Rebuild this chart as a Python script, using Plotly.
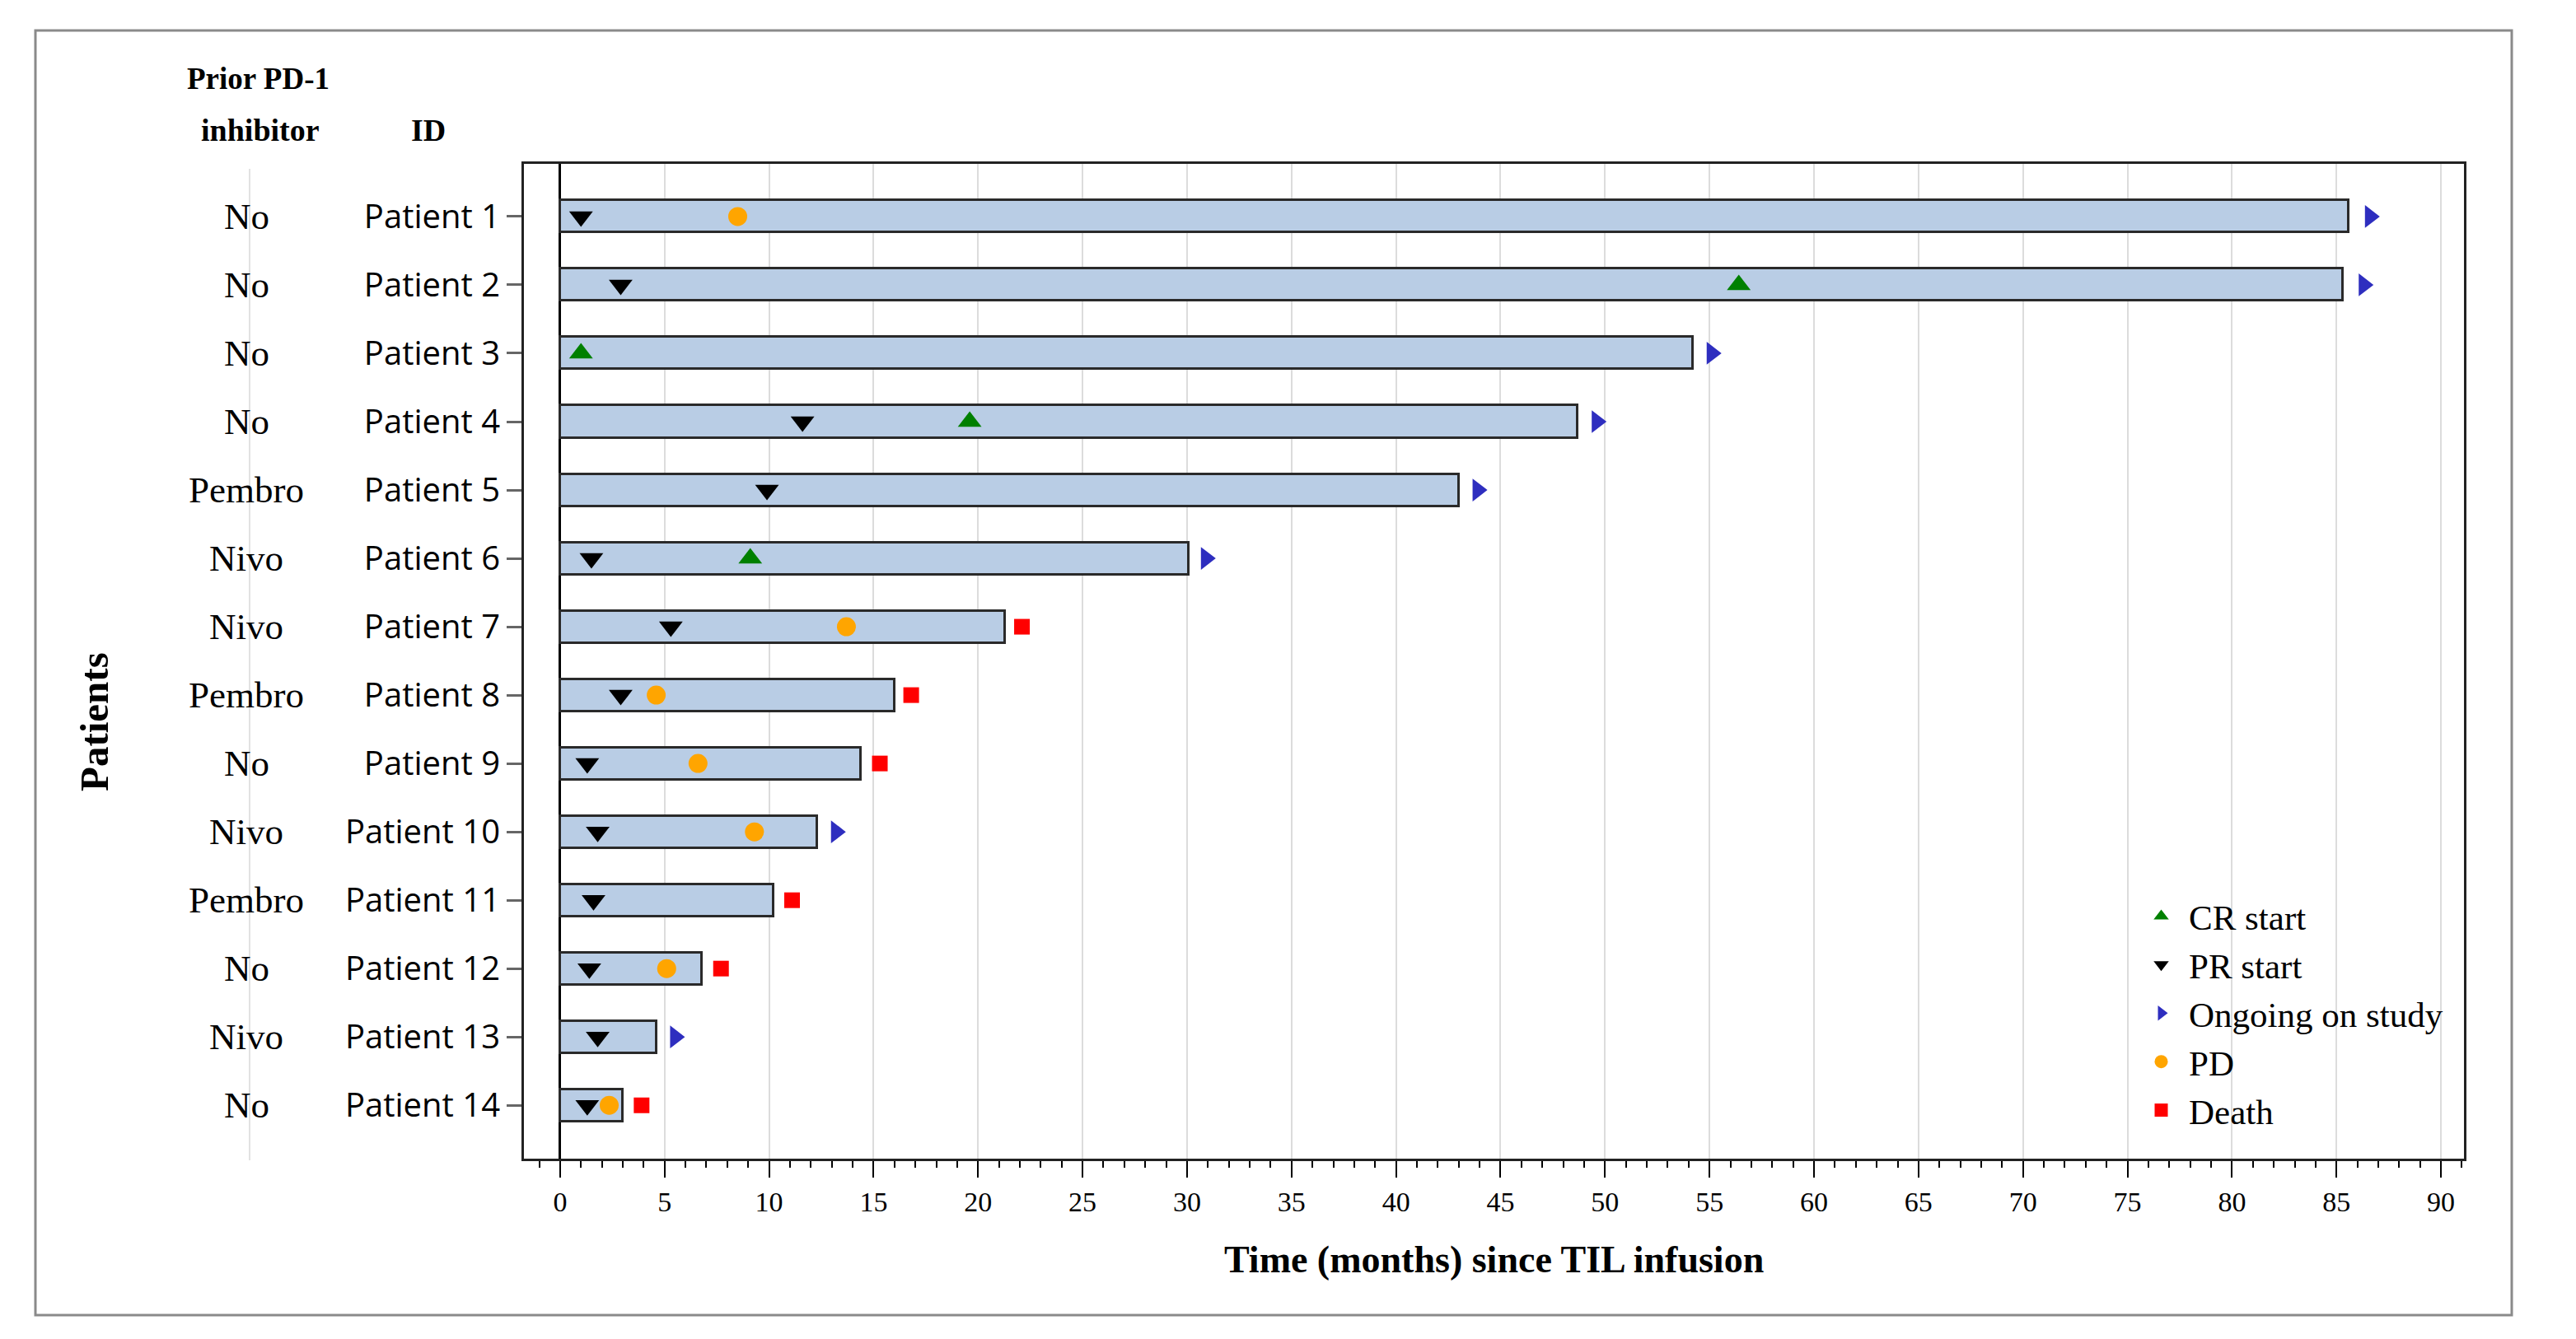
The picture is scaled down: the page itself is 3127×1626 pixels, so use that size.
import plotly.graph_objects as go

# ---------------- data ----------------
patients = ["Patient 1", "Patient 2", "Patient 3", "Patient 4", "Patient 5", "Patient 6", "Patient 7",
            "Patient 8", "Patient 9", "Patient 10", "Patient 11", "Patient 12", "Patient 13", "Patient 14"]
prior_pd1 = ["No", "No", "No", "No", "Pembro", "Nivo", "Nivo", "Pembro", "No", "Nivo", "Pembro", "No", "Nivo", "No"]
duration = [85.6, 85.3, 54.2, 48.7, 43.0, 30.1, 21.3, 16.0, 14.4, 12.3, 10.2, 6.8, 4.6, 3.0]

cr_patients = ["Patient 2", "Patient 3", "Patient 4", "Patient 6"]
cr_time = [56.4, 1.0, 19.6, 9.1]

pr_patients = ["Patient 1", "Patient 2", "Patient 4", "Patient 5", "Patient 6", "Patient 7", "Patient 8",
               "Patient 9", "Patient 10", "Patient 11", "Patient 12", "Patient 13", "Patient 14"]
pr_time = [1.0, 2.9, 11.6, 9.9, 1.5, 5.3, 2.9, 1.3, 1.8, 1.6, 1.4, 1.8, 1.3]

ongoing_patients = ["Patient 1", "Patient 2", "Patient 3", "Patient 4", "Patient 5", "Patient 6",
                    "Patient 10", "Patient 13"]
ongoing_time = [86.6, 86.3, 55.1, 49.6, 43.9, 30.9, 13.2, 5.5]

pd_patients = ["Patient 1", "Patient 7", "Patient 8", "Patient 9", "Patient 10", "Patient 12", "Patient 14"]
pd_time = [8.5, 13.7, 4.6, 6.6, 9.3, 5.1, 2.35]

death_patients = ["Patient 7", "Patient 8", "Patient 9", "Patient 11", "Patient 12", "Patient 14"]
death_time = [22.1, 16.8, 15.3, 11.1, 7.7, 3.9]

x_ticks = list(range(0, 91, 5))

# ---------------- layout geometry (page has an 8px body margin) ----------------
W, H = 3119, 1618
L, R, T, B = 628, 136, 191, 219
PW, PH = W - L - R, H - T - B
OFF = 8

def px_x(px):  # screenshot pixel -> paper x
    return (px - OFF - L) / PW

def px_y(py):  # screenshot pixel -> paper y
    return (H - B - (py - OFF)) / PH

SERIF = "Liberation Serif, Times New Roman, serif"
SANS = "Open Sans, Noto Sans, Liberation Sans, sans-serif"

fig = go.Figure()

fig.add_trace(go.Bar(
    x=duration, y=patients, orientation="h", base=0, width=0.47,
    marker=dict(color="#B9CDE5", line=dict(color="#2A2A2A", width=3)),
    showlegend=False, hoverinfo="skip"))

marker_specs = [
    ("CR start", cr_patients, cr_time, "triangle-up", "#008000", 25),
    ("PR start", pr_patients, pr_time, "triangle-down", "#000000", 25),
    ("Ongoing on study", ongoing_patients, ongoing_time, "triangle-right", "#2E2EBF", 24),
    ("PD", pd_patients, pd_time, "circle", "#FFA500", 23),
    ("Death", death_patients, death_time, "square", "#FF0000", 19),
]
for name, ys, xs, sym, col, sz in marker_specs:
    fig.add_trace(go.Scatter(
        x=xs, y=ys, mode="markers", name=name,
        marker=dict(symbol=sym, color=col, size=sz, line=dict(width=0))))

fig.update_layout(
    width=W, height=H,
    margin=dict(l=L, r=R, t=T, b=B),
    paper_bgcolor="white", plot_bgcolor="white",
    bargap=0,
    legend=dict(
        x=px_x(2590), y=px_y(1078), xanchor="left", yanchor="top",
        font=dict(family=SERIF, size=43, color="black"),
        bgcolor="rgba(0,0,0,0)", borderwidth=0, itemwidth=57, tracegroupgap=0,
    ),
    xaxis=dict(
        range=[-1.73, 91.1], tickvals=x_ticks, ticktext=[str(v) for v in x_ticks],
        ticks="outside", ticklen=20, tickwidth=2, tickcolor="black",
        tickfont=dict(family=SERIF, size=34, color="black"),
        showgrid=True, gridcolor="#DCDCDC", gridwidth=2,
        zeroline=True, zerolinecolor="black", zerolinewidth=3,
        showline=True, linecolor="#222222", linewidth=3, mirror=True,
        minor=dict(dtick=1, ticks="outside", ticklen=8, tickwidth=2, tickcolor="black", showgrid=False),
    ),
    yaxis=dict(
        type="category", categoryorder="array", categoryarray=patients,
        range=[13.78, -0.77],
        ticks="outside", ticklen=18, tickwidth=3, tickcolor="#666666",
        tickfont=dict(family=SANS, size=40, color="black"),
        showgrid=False, zeroline=False,
        showline=True, linecolor="#222222", linewidth=3, mirror=True,
    ),
)

# Prior PD-1 inhibitor column
for p, pr in zip(patients, prior_pd1):
    fig.add_annotation(x=px_x(299), xref="paper", y=p, yref="y", text=pr, showarrow=False,
                       xanchor="center", yanchor="middle",
                       font=dict(family=SERIF, size=45, color="black"))

# headers
fig.add_annotation(x=px_x(313), y=px_y(96), xref="paper", yref="paper", text="<b>Prior PD-1</b>",
                   showarrow=False, xanchor="center", yanchor="middle",
                   font=dict(family=SERIF, size=37, color="black"))
fig.add_annotation(x=px_x(316), y=px_y(158), xref="paper", yref="paper", text="<b>inhibitor</b>",
                   showarrow=False, xanchor="center", yanchor="middle",
                   font=dict(family=SERIF, size=38, color="black"))
fig.add_annotation(x=px_x(520), y=px_y(158), xref="paper", yref="paper", text="<b>ID</b>",
                   showarrow=False, xanchor="center", yanchor="middle",
                   font=dict(family=SERIF, size=38, color="black"))

# axis titles
fig.add_annotation(x=0.5, y=px_y(1529), xref="paper", yref="paper",
                   text="<b>Time (months) since TIL infusion</b>", showarrow=False,
                   xanchor="center", yanchor="middle",
                   font=dict(family=SERIF, size=46, color="black"))
fig.add_annotation(x=px_x(114), y=px_y(877), xref="paper", yref="paper",
                   text="<b>Patients</b>", showarrow=False, textangle=-90,
                   xanchor="center", yanchor="middle",
                   font=dict(family=SERIF, size=49, color="black"))

# faint separator line behind the prior column
fig.add_shape(type="line", xref="paper", yref="paper",
              x0=px_x(303), x1=px_x(303), y0=px_y(1409), y1=px_y(205),
              line=dict(color="#E2E2E2", width=2), layer="below")

# outer border
fig.add_shape(type="rect", xref="paper", yref="paper",
              x0=px_x(43), x1=px_x(3049), y0=px_y(1597), y1=px_y(37),
              line=dict(color="#8A8A8A", width=3), fillcolor="rgba(0,0,0,0)")

fig.write_html("out.html")
